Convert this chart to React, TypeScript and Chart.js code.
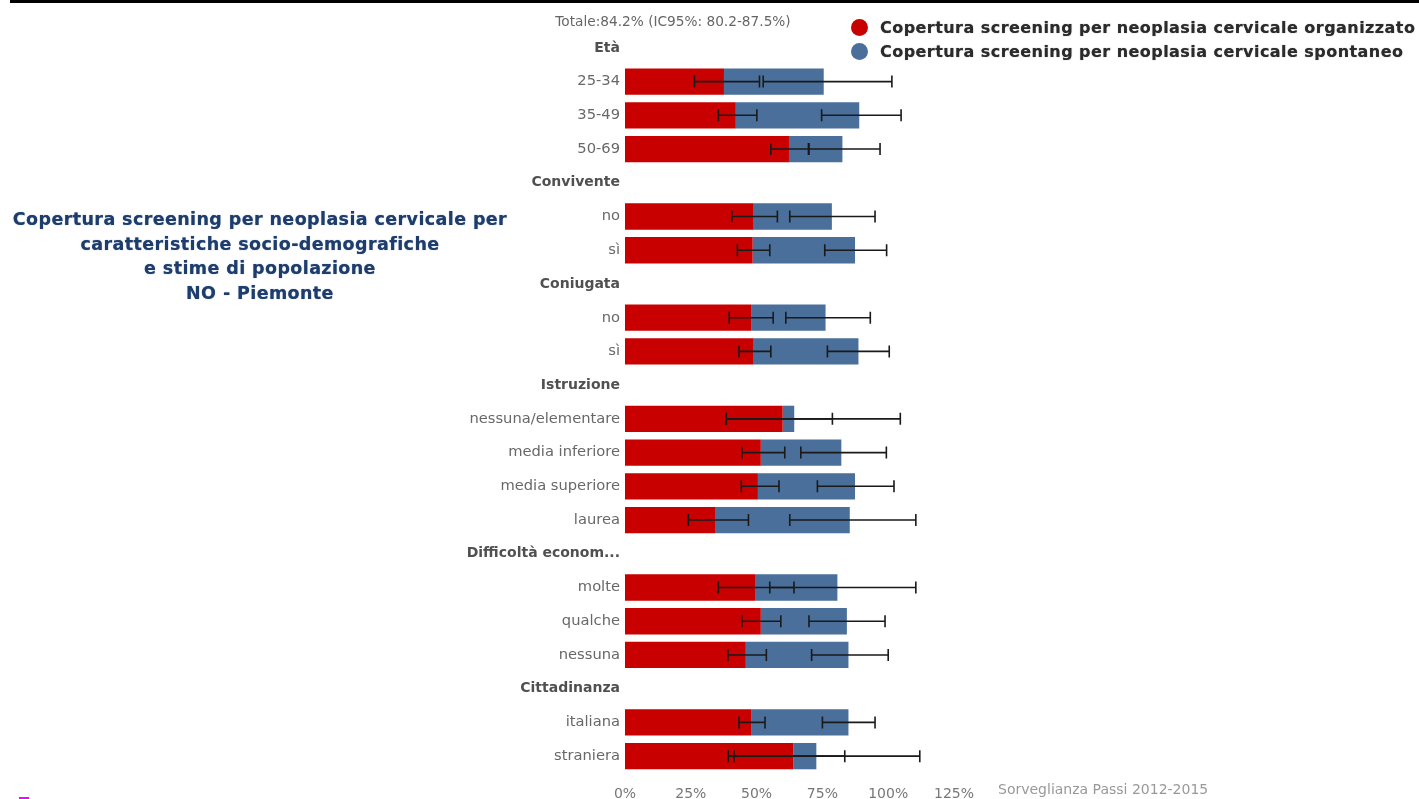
import React, { useEffect, useRef } from "react";
import { Chart, registerables } from "chart.js";

Chart.register(...registerables);

const categories = [
  "Età", "25-34", "35-49", "50-69",
  "Convivente", "no", "sì",
  "Coniugata", "no", "sì",
  "Istruzione", "nessuna/elementare", "media inferiore", "media superiore", "laurea",
  "Difficoltà econom...", "molte", "qualche", "nessuna",
  "Cittadinanza", "italiana", "straniera",
];
const isHeader = [
  true, false, false, false,
  true, false, false,
  true, false, false,
  true, false, false, false, false,
  true, false, false, false,
  true, false, false,
];
const organizzato = [null, 37.6, 42.1, 62.3, null, 48.9, 48.5, null, 47.9, 48.9, null, 59.9, 51.6, 50.5, 34.2, null, 49.4, 51.6, 45.9, null, 47.9, 63.9];
const totale = [null, 75.5, 89.0, 82.6, null, 78.6, 87.4, null, 76.2, 88.7, null, 64.3, 82.2, 87.4, 85.4, null, 80.7, 84.3, 84.9, null, 84.9, 72.7];
const orgLow = [null, 26.4, 35.5, 55.4, null, 40.6, 42.7, null, 39.6, 43.3, null, 38.3, 44.4, 44.2, 24.1, null, 35.5, 44.4, 39.1, null, 43.3, 41.4];
const orgHigh = [null, 51.1, 50.1, 69.7, null, 57.9, 55.0, null, 56.3, 55.4, null, 78.8, 60.7, 58.5, 46.9, null, 64.2, 59.2, 53.7, null, 53.2, 83.5];
const totLow = [null, 52.5, 74.7, 69.9, null, 62.6, 75.9, null, 61.1, 76.9, null, 38.5, 66.8, 73.1, 62.6, null, 55.0, 69.9, 70.9, null, 75.0, 39.3];
const totHigh = [null, 101.4, 104.9, 96.9, null, 95.0, 99.4, null, 93.2, 100.4, null, 104.6, 99.3, 102.2, 110.5, null, 110.5, 98.8, 100.0, null, 95.0, 112.0];
const xTicks = [0, 25, 50, 75, 100, 125];

const seriesNames = [
  "Copertura screening per neoplasia cervicale organizzato",
  "Copertura screening per neoplasia cervicale spontaneo",
];
const seriesColors = ["#c80000", "#4a6f9a"];
const titleText = "Totale:84.2% (IC95%: 80.2-87.5%)";
const leftTitle = [
  "Copertura screening per neoplasia cervicale per",
  "caratteristiche socio-demografiche",
  "e stime di popolazione",
  "NO - Piemonte",
];
const footer = "Sorveglianza Passi 2012-2015";

const spontaneo = totale.map((t, i) =>
  t == null || organizzato[i] == null ? null : +(t - (organizzato[i] as number)).toFixed(1)
);

const errorBarPlugin = {
  id: "errorBars",
  afterDatasetsDraw(chart: any) {
    const { ctx, scales } = chart;
    const xs = scales.x;
    const ys = scales.y;
    ctx.save();
    ctx.strokeStyle = "#1a1a1a";
    ctx.lineWidth = 1.6;
    const cap = 6;
    const drawBar = (lo: number, hi: number, y: number) => {
      const x1 = xs.getPixelForValue(lo);
      const x2 = xs.getPixelForValue(hi);
      ctx.beginPath();
      ctx.moveTo(x1, y);
      ctx.lineTo(x2, y);
      ctx.moveTo(x1, y - cap);
      ctx.lineTo(x1, y + cap);
      ctx.moveTo(x2, y - cap);
      ctx.lineTo(x2, y + cap);
      ctx.stroke();
    };
    categories.forEach((_, i) => {
      const y = ys.getPixelForValue(i);
      if (orgLow[i] != null && orgHigh[i] != null) drawBar(orgLow[i] as number, orgHigh[i] as number, y);
      if (totLow[i] != null && totHigh[i] != null) drawBar(totLow[i] as number, totHigh[i] as number, y);
    });
    ctx.restore();
  },
};

export default function App() {
  const ref = useRef<HTMLCanvasElement | null>(null);
  useEffect(() => {
    if (!ref.current) return;
    const chart = new Chart(ref.current, {
      type: "bar",
      data: {
        labels: categories,
        datasets: [
          { label: seriesNames[0], data: organizzato as any, backgroundColor: seriesColors[0], barPercentage: 0.78, categoryPercentage: 1 },
          { label: seriesNames[1], data: spontaneo as any, backgroundColor: seriesColors[1], barPercentage: 0.78, categoryPercentage: 1 },
        ],
      },
      options: {
        indexAxis: "y",
        responsive: false,
        animation: false,
        devicePixelRatio: 1,
        layout: { padding: { top: 31, right: 465, left: 0, bottom: 0 } },
        plugins: { legend: { display: false }, tooltip: { enabled: false }, title: { display: false } },
        scales: {
          x: {
            stacked: true,
            min: 0,
            max: 125,
            afterBuildTicks: (scale: any) => {
              scale.ticks = xTicks.map((v) => ({ value: v }));
            },
            afterFit: (scale: any) => {
              scale.height = 26;
            },
            grid: { display: false, drawTicks: false },
            border: { display: false },
            ticks: {
              padding: 13,
              color: "#777",
              font: { family: "DejaVu Sans", size: 14 },
              callback: (v: any) => v + "%",
            },
          },
          y: {
            stacked: true,
            afterFit: (scale: any) => {
              scale.width = 625;
            },
            grid: { display: false, drawTicks: false },
            border: { display: false },
            ticks: {
              padding: 5,
              autoSkip: false,
              color: (c: any) => (isHeader[c.index] ? "#505050" : "#686868"),
              font: (c: any) => ({
                family: "DejaVu Sans",
                size: isHeader[c.index] ? 14 : 14.7,
                weight: isHeader[c.index] ? "bold" : "normal",
              }),
            },
          },
        },
      },
      plugins: [errorBarPlugin],
    });
    return () => chart.destroy();
  }, []);

  return (
    <div style={{ position: "absolute", left: 0, top: 0, width: 1419, height: 799, background: "#fff", overflow: "hidden" }}>
      <div style={{ position: "absolute", left: 10, top: 0, width: 1409, height: 3, background: "#000" }} />
      <canvas ref={ref} width={1419} height={799} style={{ position: "absolute", left: 0, top: 0, width: 1419, height: 799 }} />
      <div
        style={{
          position: "absolute", left: 523, width: 300, top: 13, textAlign: "center",
          fontFamily: "DejaVu Sans", fontSize: 13.7, color: "#666", whiteSpace: "nowrap",
        }}
      >
        {titleText}
      </div>
      <div style={{ position: "absolute", left: 851, top: 15 }}>
        {seriesNames.map((n, i) => (
          <div key={n} style={{ display: "flex", alignItems: "center", height: 24 }}>
            <span style={{ display: "inline-block", width: 17, height: 17, borderRadius: "50%", background: seriesColors[i], marginRight: 12 }} />
            <span style={{ fontFamily: "DejaVu Sans", fontWeight: "bold", fontSize: 16, letterSpacing: "0.45px", color: "#2b2b2b", whiteSpace: "nowrap", textShadow: "0 0 1px #777" }}>{n}</span>
          </div>
        ))}
      </div>
      <div
        style={{
          position: "absolute", left: 0, width: 520, top: 207, textAlign: "center",
          fontFamily: "DejaVu Sans", fontWeight: "bold", fontSize: 17.5, lineHeight: "24.7px",
          letterSpacing: "0.4px", color: "#1f3d6b", textShadow: "0 0 1px #5a7aa8",
        }}
      >
        {leftTitle.map((l) => (
          <div key={l}>{l}</div>
        ))}
      </div>
      <div
        style={{
          position: "absolute", left: 998, top: 781, fontFamily: "DejaVu Sans", fontSize: 14,
          color: "#999", whiteSpace: "nowrap",
        }}
      >
        {footer}
      </div>
      <div style={{ position: "absolute", left: 19, top: 797, width: 10, height: 2, background: "#ff00ff" }} />
    </div>
  );
}
